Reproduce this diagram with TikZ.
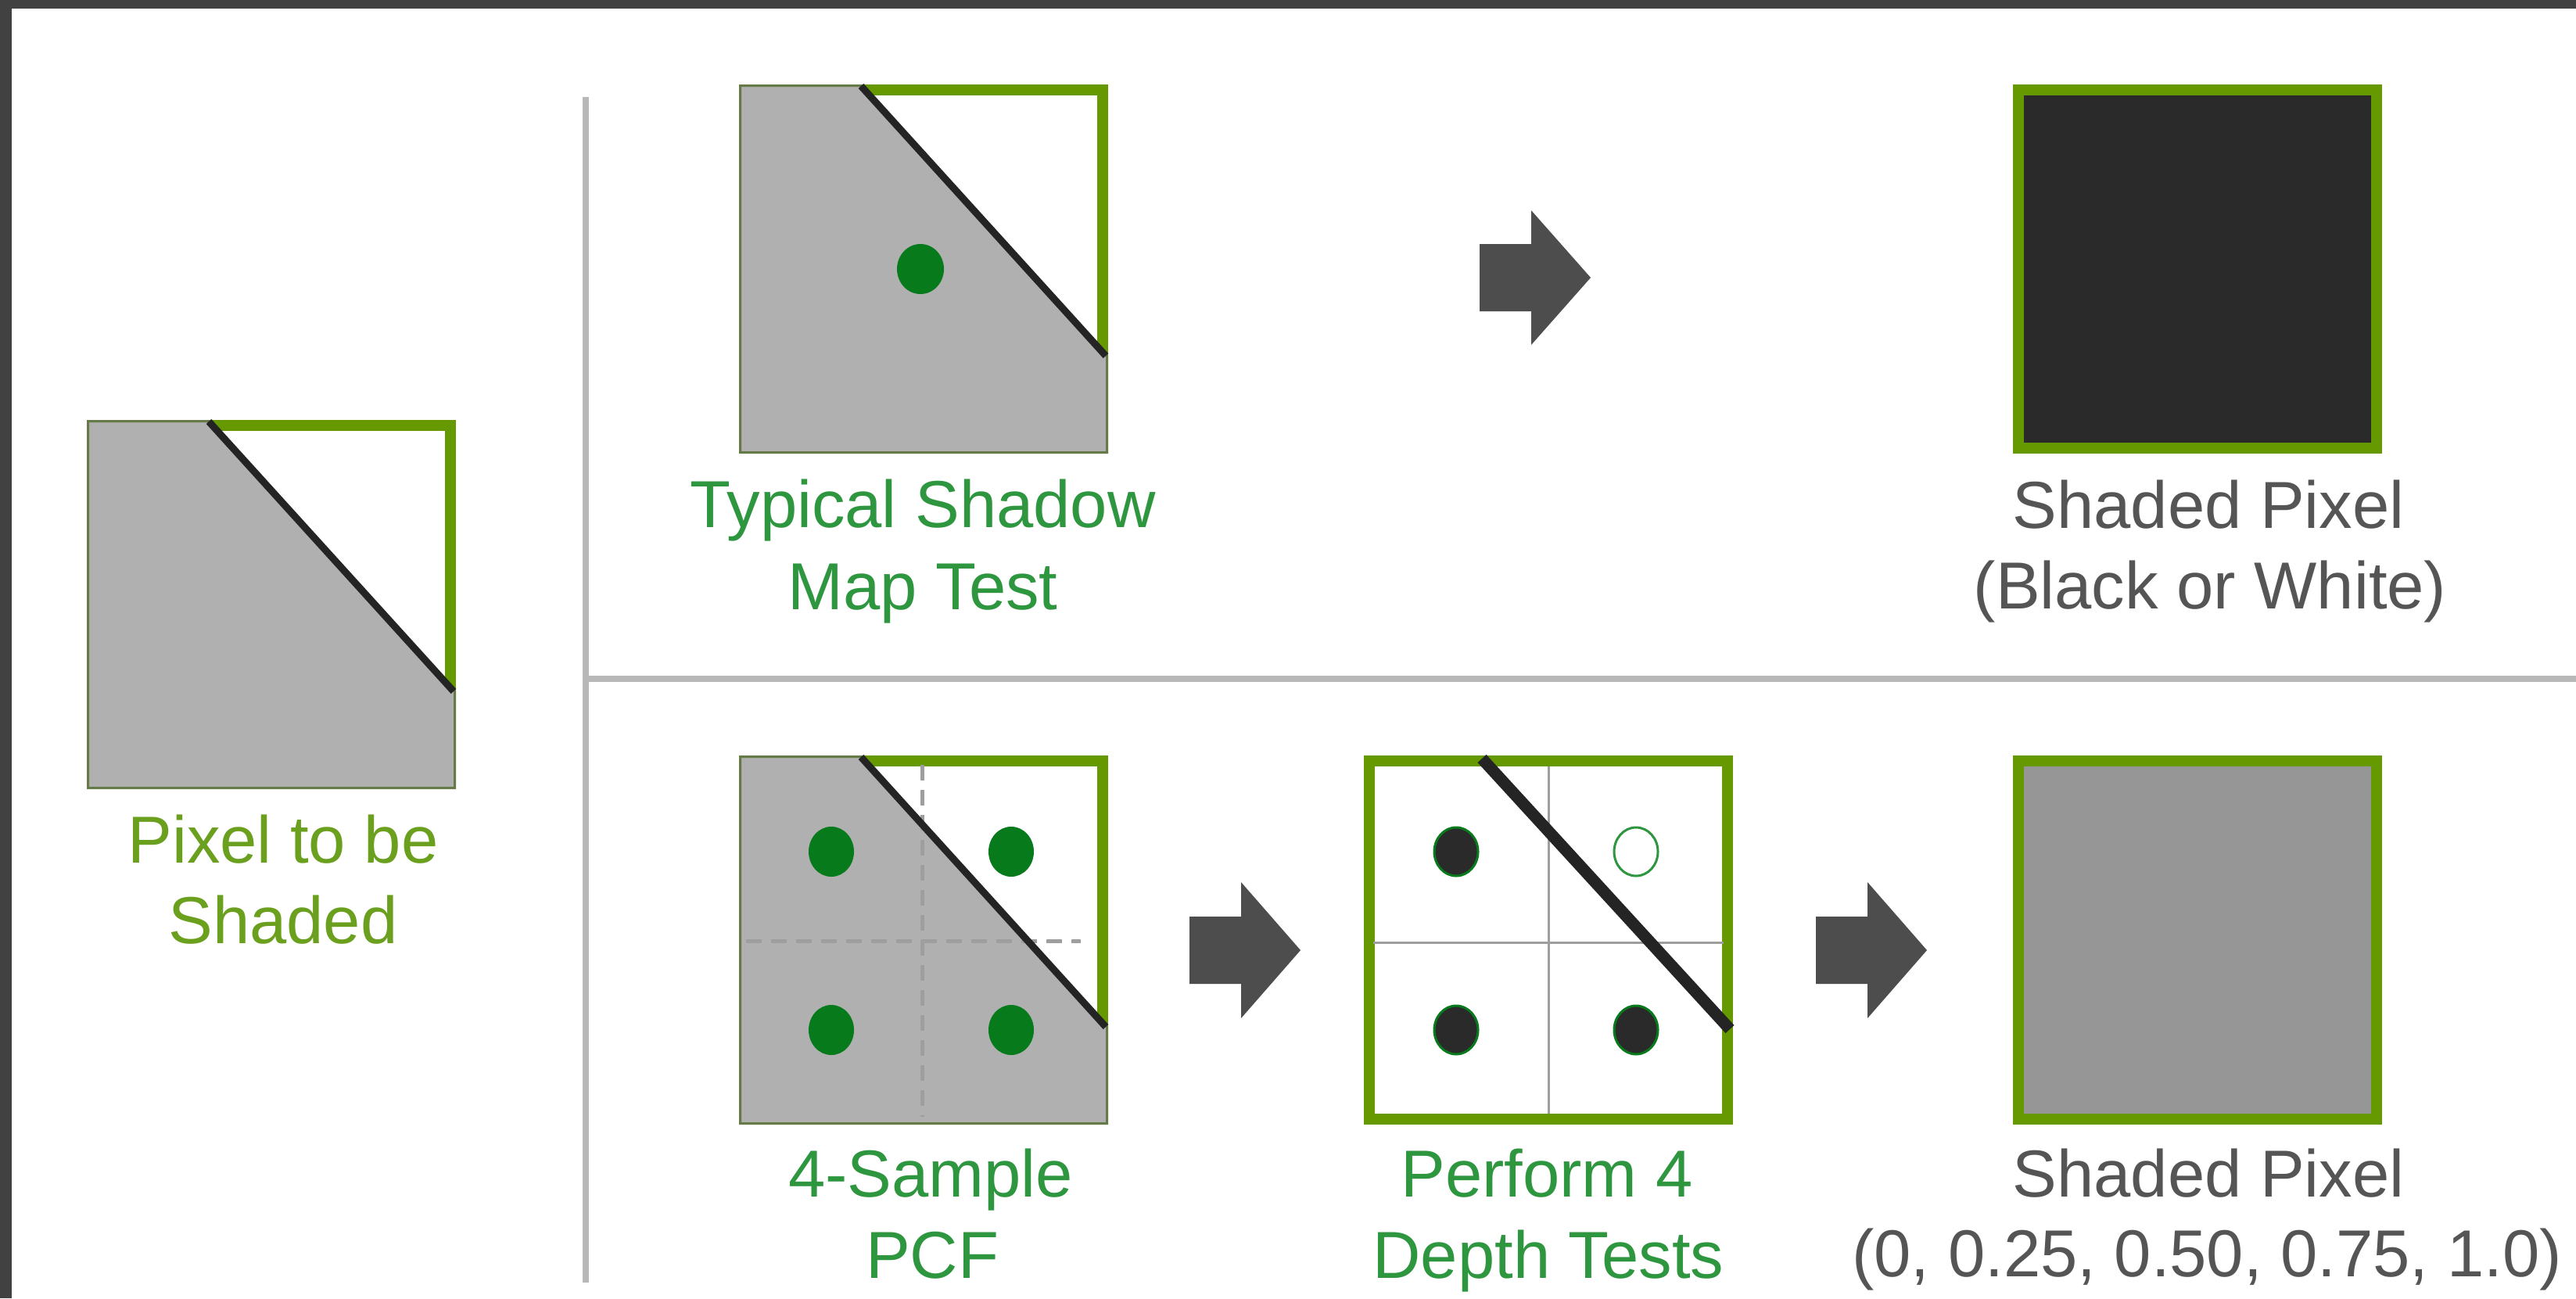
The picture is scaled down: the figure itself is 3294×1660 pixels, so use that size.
\documentclass[tikz,border=0pt]{standalone}
\usepackage{fontspec}
\setmainfont{Liberation Sans}
\definecolor{nvgreen}{HTML}{669900}
\definecolor{lblgreen}{HTML}{2F9640}
\definecolor{lblyellowgreen}{HTML}{6AA01E}
\definecolor{lblgrey}{HTML}{555555}
\definecolor{shadegrey}{HTML}{B0B0B0}
\definecolor{olivegrey}{HTML}{667A48}
\definecolor{edgeblack}{HTML}{242424}
\definecolor{dotgreen}{HTML}{077A1C}
\definecolor{dotdark}{HTML}{2A2A2A}
\definecolor{arrowgrey}{HTML}{4D4D4D}
\definecolor{divgrey}{HTML}{B8B8B8}
\definecolor{framedark}{HTML}{414141}
\definecolor{midgrey}{HTML}{969696}
\definecolor{gridgrey}{HTML}{9E9E9E}
\begin{document}
\begin{tikzpicture}[x=1pt,y=-1pt,
  pixbox/.style={draw=nvgreen, line width=14pt, fill=white, minimum width=458pt, minimum height=458pt, inner sep=0pt, outer sep=0pt},
  shadowfill/.style={fill=shadegrey, draw=olivegrey, line width=3pt},
  edgeline/.style={draw=edgeblack, line width=9pt},
  thickedge/.style={draw=edgeblack, line width=15pt},
  sampledot/.style={fill=dotgreen},
  darkdot/.style={fill=dotdark, draw=dotgreen, line width=3pt},
  opendot/.style={fill=white, draw=lblgreen, line width=3pt},
  pcfdash/.style={draw=gridgrey, line width=5pt, dash pattern=on 20pt off 12pt},
  gridline/.style={draw=gridgrey, line width=3pt},
  blockarrow/.style={fill=arrowgrey},
  divider/.style={draw=divgrey, line width=8pt},
  lblbase/.style={inner sep=0pt, anchor=base, font=\fontsize{85}{100}\selectfont},
  glbl/.style={lblbase, text=lblgreen},
  ylbl/.style={lblbase, text=lblyellowgreen},
  dlbl/.style={lblbase, text=lblgrey}
]
\useasboundingbox (0,0) rectangle (3294,1660);
\fill[framedark] (0,0) rectangle (3294,1660);
\fill[white] (15,11) rectangle (3294,1660);

% dividers
\coordinate (vtop) at (749,124);
\coordinate (vbot) at (749,1640);
\coordinate (hleft) at (749,868);
\coordinate (hright) at (3294,868);
\draw[divider] (vtop) -- (vbot);
\draw[divider] (hleft) -- (hright);

% left: pixel to be shaded
\node[pixbox] (pix) at (347,773) {};
\begin{scope}[shift={(111,537)}]
  \filldraw[shadowfill] (1.5,1.5) -- (156,1.5) -- (470.5,347) -- (470.5,470.5) -- (1.5,470.5) -- cycle;
  \draw[edgeline] (156,2) -- (469,347);
\end{scope}
\node[ylbl] (pixl1) at (362,1103) {Pixel to be};
\node[ylbl] (pixl2) at (362,1206) {Shaded};

% top row
\node[pixbox] (typ) at (1181,344) {};
\begin{scope}[shift={(945,108)}]
  \filldraw[shadowfill] (1.5,1.5) -- (156,1.5) -- (470.5,347) -- (470.5,470.5) -- (1.5,470.5) -- cycle;
  \draw[edgeline] (156,2) -- (469,347);
  \fill[sampledot] (232,236) ellipse [x radius=30pt, y radius=32pt];
\end{scope}
\node[glbl] (typl1) at (1180,674) {Typical Shadow};
\node[glbl] (typl2) at (1180,779) {Map Test};

\begin{scope}[shift={(1892,355)}]
  \fill[blockarrow] (0,-43) -- (66,-43) -- (66,-86) -- (142,0) -- (66,86) -- (66,43) -- (0,43) -- cycle;
\end{scope}

\node[pixbox, fill=dotdark] (bw) at (2810,344) {};
\node[dlbl] (bwl1) at (2824,675) {Shaded Pixel};
\node[dlbl] (bwl2) at (2826,778) {(Black or White)};

% bottom row
\node[pixbox] (pcf) at (1181,1202) {};
\begin{scope}[shift={(945,966)}]
  \filldraw[shadowfill] (1.5,1.5) -- (156,1.5) -- (470.5,347) -- (470.5,470.5) -- (1.5,470.5) -- cycle;
  \draw[pcfdash] (234,12) -- (234,462);
  \draw[pcfdash] (9,237) -- (437,237);
  \draw[edgeline] (156,2) -- (469,347);
  \fill[sampledot] (118,123) ellipse [x radius=29pt, y radius=32pt];
  \fill[sampledot] (348,123) ellipse [x radius=29pt, y radius=32pt];
  \fill[sampledot] (118,351) ellipse [x radius=29pt, y radius=32pt];
  \fill[sampledot] (348,351) ellipse [x radius=29pt, y radius=32pt];
\end{scope}
\node[glbl] (pcfl1) at (1190,1530) {4-Sample};
\node[glbl] (pcfl2) at (1192,1634) {PCF};

\begin{scope}[shift={(1521,1215)}]
  \fill[blockarrow] (0,-43) -- (66,-43) -- (66,-87) -- (142,0) -- (66,87) -- (66,43) -- (0,43) -- cycle;
\end{scope}

\node[pixbox] (dep) at (1980,1202) {};
\begin{scope}[shift={(1744,966)}]
  \draw[gridline] (236,14) -- (236,458);
  \draw[gridline] (12,239) -- (460,239);
  \draw[thickedge] (151,4) -- (468,350);
  \filldraw[darkdot] (118,123) ellipse [x radius=28pt, y radius=31pt];
  \filldraw[opendot] (348,123) ellipse [x radius=28pt, y radius=31pt];
  \filldraw[darkdot] (118,351) ellipse [x radius=28pt, y radius=31pt];
  \filldraw[darkdot] (348,351) ellipse [x radius=28pt, y radius=31pt];
\end{scope}
\node[glbl] (depl1) at (1978,1530) {Perform 4};
\node[glbl] (depl2) at (1980,1634) {Depth Tests};

\begin{scope}[shift={(2322,1215)}]
  \fill[blockarrow] (0,-43) -- (66,-43) -- (66,-87) -- (142,0) -- (66,87) -- (66,43) -- (0,43) -- cycle;
\end{scope}

\node[pixbox, fill=midgrey] (res) at (2810,1202) {};
\node[dlbl] (resl1) at (2824,1530) {Shaded Pixel};
\node[dlbl] (resl2) at (2822,1632) {(0, 0.25, 0.50, 0.75, 1.0)};
\end{tikzpicture}
\end{document}
